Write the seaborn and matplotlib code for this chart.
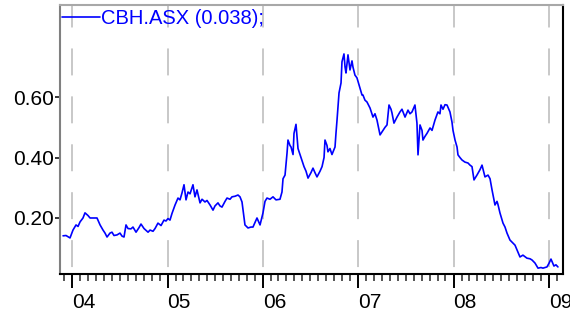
"""Recreates the CBH.ASX price history chart."""

import numpy as np
import pandas as pd
import matplotlib
matplotlib.use("Agg")
from matplotlib import pyplot as plt
import matplotlib.dates as mdates
import seaborn as sns

TICKER = "CBH.ASX"

# decimal years of each read point
years = [
    2003.906, 2003.937, 2003.979, 2004.010, 2004.042, 2004.063, 2004.084, 2004.115,
    2004.136, 2004.168, 2004.189, 2004.231, 2004.262, 2004.294, 2004.325, 2004.346,
    2004.367, 2004.398, 2004.419, 2004.440, 2004.472, 2004.503, 2004.524, 2004.545,
    2004.566, 2004.587, 2004.618, 2004.639, 2004.671, 2004.702, 2004.723, 2004.755,
    2004.797, 2004.818, 2004.849, 2004.870, 2004.901, 2004.933, 2004.964, 2004.985,
    2005.006, 2005.027, 2005.048, 2005.080, 2005.111, 2005.132, 2005.153, 2005.174,
    2005.195, 2005.216, 2005.237, 2005.268, 2005.289, 2005.310, 2005.342, 2005.363,
    2005.394, 2005.415, 2005.447, 2005.478, 2005.499, 2005.530, 2005.551, 2005.572,
    2005.604, 2005.625, 2005.656, 2005.677, 2005.709, 2005.740, 2005.761, 2005.782,
    2005.803, 2005.813, 2005.845, 2005.876, 2005.897, 2005.918, 2005.939, 2005.971,
    2006.002, 2006.023, 2006.044, 2006.075, 2006.107, 2006.138, 2006.180, 2006.201,
    2006.212, 2006.233, 2006.254, 2006.264, 2006.285, 2006.296, 2006.317, 2006.327,
    2006.348, 2006.369, 2006.400, 2006.432, 2006.453, 2006.474, 2006.505, 2006.526,
    2006.547, 2006.568, 2006.600, 2006.621, 2006.642, 2006.652, 2006.673, 2006.683,
    2006.704, 2006.725, 2006.757, 2006.767, 2006.778, 2006.799, 2006.820, 2006.830,
    2006.851, 2006.862, 2006.872, 2006.893, 2006.914, 2006.935, 2006.945, 2006.966,
    2006.987, 2007.019, 2007.040, 2007.050, 2007.071, 2007.092, 2007.124, 2007.155,
    2007.176, 2007.197, 2007.229, 2007.260, 2007.281, 2007.302, 2007.323, 2007.344,
    2007.354, 2007.375, 2007.407, 2007.438, 2007.459, 2007.491, 2007.522, 2007.543,
    2007.564, 2007.595, 2007.616, 2007.627, 2007.648, 2007.669, 2007.679, 2007.700,
    2007.721, 2007.753, 2007.774, 2007.805, 2007.836, 2007.857, 2007.868, 2007.889,
    2007.910, 2007.931, 2007.962, 2007.983, 2007.994, 2008.015, 2008.036, 2008.046,
    2008.067, 2008.088, 2008.119, 2008.151, 2008.172, 2008.193, 2008.214, 2008.245,
    2008.277, 2008.298, 2008.329, 2008.361, 2008.382, 2008.403, 2008.434, 2008.455,
    2008.465, 2008.486, 2008.518, 2008.539, 2008.560, 2008.591, 2008.623, 2008.644,
    2008.665, 2008.696, 2008.727, 2008.769, 2008.801, 2008.822, 2008.853, 2008.885,
    2008.916, 2008.937, 2008.979, 2009.000, 2009.021, 2009.052, 2009.073, 2009.094,
]

prices = [
    0.141, 0.142, 0.134, 0.160, 0.177, 0.172, 0.187, 0.200,
    0.217, 0.208, 0.200, 0.200, 0.200, 0.177, 0.160, 0.150,
    0.137, 0.150, 0.153, 0.142, 0.144, 0.150, 0.140, 0.137,
    0.177, 0.165, 0.164, 0.170, 0.153, 0.168, 0.180, 0.165,
    0.153, 0.160, 0.156, 0.165, 0.183, 0.175, 0.193, 0.190,
    0.198, 0.193, 0.215, 0.243, 0.266, 0.260, 0.283, 0.310,
    0.260, 0.286, 0.280, 0.310, 0.270, 0.293, 0.250, 0.262,
    0.253, 0.258, 0.243, 0.226, 0.240, 0.250, 0.240, 0.236,
    0.255, 0.266, 0.262, 0.270, 0.272, 0.276, 0.270, 0.253,
    0.200, 0.177, 0.167, 0.170, 0.170, 0.185, 0.200, 0.177,
    0.217, 0.255, 0.266, 0.262, 0.270, 0.260, 0.262, 0.286,
    0.330, 0.342, 0.415, 0.458, 0.440, 0.435, 0.410, 0.480,
    0.510, 0.430, 0.400, 0.370, 0.355, 0.332, 0.350, 0.365,
    0.350, 0.336, 0.355, 0.370, 0.400, 0.458, 0.440, 0.419,
    0.430, 0.410, 0.435, 0.480, 0.524, 0.614, 0.647, 0.717,
    0.743, 0.700, 0.680, 0.740, 0.690, 0.720, 0.700, 0.673,
    0.664, 0.630, 0.607, 0.607, 0.590, 0.584, 0.564, 0.534,
    0.545, 0.524, 0.475, 0.490, 0.500, 0.508, 0.574, 0.560,
    0.548, 0.514, 0.534, 0.551, 0.560, 0.534, 0.557, 0.545,
    0.551, 0.574, 0.514, 0.409, 0.508, 0.490, 0.458, 0.470,
    0.480, 0.498, 0.490, 0.524, 0.551, 0.545, 0.574, 0.560,
    0.575, 0.574, 0.551, 0.518, 0.490, 0.458, 0.435, 0.409,
    0.400, 0.392, 0.385, 0.382, 0.375, 0.370, 0.326, 0.342,
    0.360, 0.375, 0.336, 0.342, 0.330, 0.293, 0.243, 0.255,
    0.245, 0.217, 0.183, 0.170, 0.150, 0.127, 0.117, 0.110,
    0.094, 0.071, 0.077, 0.067, 0.065, 0.061, 0.051, 0.034,
    0.036, 0.034, 0.038, 0.050, 0.064, 0.041, 0.045, 0.038,
]

y_ticks = [0.20, 0.40, 0.60]


def _to_dates(dec_years):
    """Converts decimal years to timestamps."""
    base = pd.Timestamp("2004-01-01")
    offsets = (np.array(dec_years) - 2004.0) * 365.25
    return base + pd.to_timedelta(offsets, unit="D")


sns.set_style("white")
plt.rcParams["font.family"] = ["Liberation Sans", "DejaVu Sans"]
plt.rcParams["lines.scale_dashes"] = False

df = pd.DataFrame({"date": _to_dates(years), "price": prices})

fig = plt.figure(figsize=(5.7, 3.16), dpi=100)
ax = fig.add_axes([60 / 570, 1 - 274 / 316, 503 / 570, 269 / 316])

sns.lineplot(
    data=df, x="date", y="price", ax=ax, color="#0000ff", linewidth=1.2,
    label=f"{TICKER} ({prices[-1]:.3f});",
)

ax.set_xlim(_to_dates([2003.874, 2009.147]))
ax.set_ylim(0.0146, 0.905)

ax.xaxis.set_major_locator(mdates.YearLocator())
ax.xaxis.set_major_formatter(mdates.DateFormatter("%y"))
ax.xaxis.set_minor_locator(mdates.MonthLocator())
ax.set_yticks(y_ticks)
ax.set_yticklabels([f"{v:.2f}" for v in y_ticks])

ax.tick_params(axis="x", which="major", direction="out", length=10, width=1.4,
               pad=3.5, labelsize=15, colors="black", bottom=True)
ax.tick_params(axis="x", which="minor", direction="out", length=5, width=1.1,
               bottom=True)
ax.tick_params(axis="y", direction="out", length=3.6, width=1.1, pad=1,
               labelsize=15, colors="black", left=True)
plt.setp(ax.get_xticklabels(), ha="left")

ax.set_axisbelow(True)
ax.grid(False)
ax.xaxis.grid(True, which="major", color="#c8c8c8", linewidth=1.4,
              linestyle=(29.5, (19.4, 15.1)))

ax.spines["top"].set_color("#a8a8a8")
ax.spines["left"].set_color("#808080")
ax.spines["right"].set_color("black")
ax.spines["bottom"].set_color("black")
for side in ax.spines.values():
    side.set_linewidth(1.5)
    side.set_visible(True)

ax.set_xlabel("")
ax.set_ylabel("")

leg = ax.legend(
    loc="upper left", bbox_to_anchor=(0.004, 0.985), frameon=False,
    fontsize=14.5, handlelength=1.9, handletextpad=0.05, borderpad=0,
    borderaxespad=0, labelcolor="#0000ff",
)

fig.savefig("out.png", dpi=100)
